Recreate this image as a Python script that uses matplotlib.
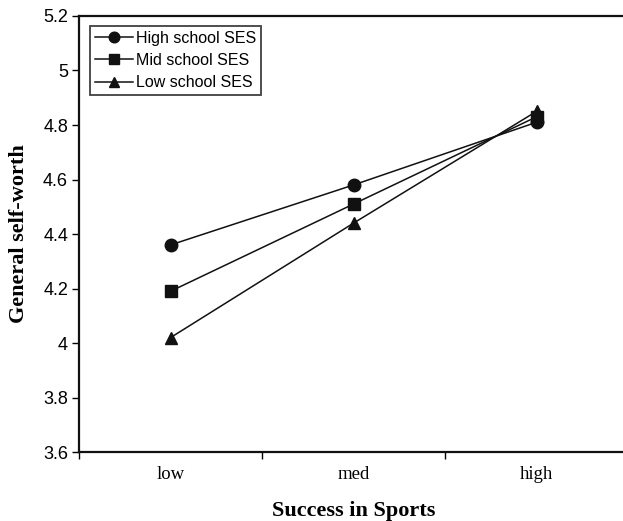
import matplotlib
matplotlib.use("Agg")
import matplotlib.pyplot as plt
from matplotlib.ticker import FixedLocator

categories = ["low", "med", "high"]
high_ses = [4.36, 4.58, 4.81]
mid_ses = [4.19, 4.51, 4.83]
low_ses = [4.02, 4.44, 4.85]
series = [
    ("High school SES", high_ses, "o"),
    ("Mid school SES", mid_ses, "s"),
    ("Low school SES", low_ses, "^"),
]
yticks = [3.6, 3.8, 4.0, 4.2, 4.4, 4.6, 4.8, 5.0, 5.2]
ytick_labels = ["3.6", "3.8", "4", "4.2", "4.4", "4.6", "4.8", "5", "5.2"]

fig = plt.figure(figsize=(6.23, 5.21), dpi=100)
ax = fig.add_axes([0.127, 0.1324, 0.881, 0.8369])

x = list(range(len(categories)))
for label, vals, marker in series:
    ax.plot(x, vals, marker=marker, color="#111111", linewidth=1.1,
            markersize=9, label=label)

ax.set_xlim(-0.5, len(categories) - 0.5)
ax.set_ylim(3.6, 5.2)
ax.set_yticks(yticks)
ax.set_yticklabels(ytick_labels, fontfamily="Liberation Sans", fontsize=13)
ax.set_xticks(x)
ax.set_xticklabels(categories, fontfamily="Liberation Serif", fontsize=13.5)
ax.tick_params(axis="x", which="major", length=0, pad=10)
ax.xaxis.set_minor_locator(FixedLocator([-0.5, 0.5, 1.5]))
ax.tick_params(axis="x", which="minor", length=5, width=1, direction="out")
ax.tick_params(axis="y", length=5, width=1, direction="out", pad=3)

for side in ["left", "bottom", "top", "right"]:
    ax.spines[side].set_linewidth(1.6)
    ax.spines[side].set_color("#111111")

ax.set_xlabel("Success in Sports", fontfamily="Liberation Serif",
              fontsize=16, fontweight="bold", labelpad=13)
ax.set_ylabel("General self-worth", fontfamily="Liberation Serif",
              fontsize=16, fontweight="bold", labelpad=10)

leg = ax.legend(loc="upper left", bbox_to_anchor=(0.02, 0.977), frameon=True,
                fancybox=False, prop={"family": "Liberation Sans", "size": 11.5},
                markerscale=0.85, handlelength=2.4, handletextpad=0.15,
                borderpad=0.3, labelspacing=0.45, borderaxespad=0)
leg.get_frame().set_edgecolor("#111111")
leg.get_frame().set_linewidth(1.3)

fig.savefig("out.png", dpi=100)
